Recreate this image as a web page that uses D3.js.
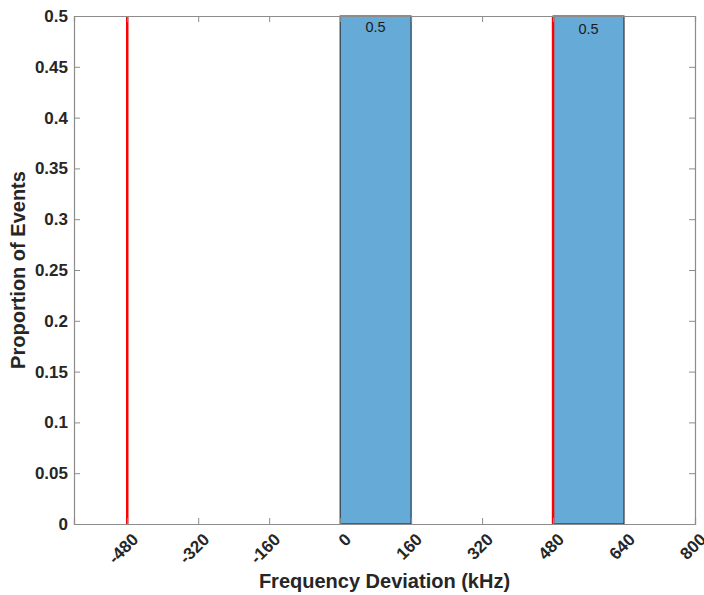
<!DOCTYPE html>
<html><head><meta charset="utf-8">
<script src="https://cdn.jsdelivr.net/npm/d3@7"></script>
<style>body{margin:0;background:#fff}svg{display:block}</style>
</head><body>
<svg id="c" width="704" height="595"></svg>
<script>
const binEdges = [[0,160],[480,640]];
const binValues = [0.5, 0.5];
const binLabels = ["0.5","0.5"];
const refLines = [-480, 480];
const xTicks = [-480,-320,-160,0,160,320,480,640,800];
const yTicks = [0,0.05,0.1,0.15,0.2,0.25,0.3,0.35,0.4,0.45,0.5];
const xDomain = [-600, 800];
const yDomain = [0, 0.5];

const L=74, R=695, T=16, B=524;
const svg = d3.select("#c");
const x = d3.scaleLinear().domain(xDomain).range([L,R]);
const y = d3.scaleLinear().domain(yDomain).range([B,T]);
const font = "Helvetica, Arial, 'Liberation Sans', sans-serif";
const axisCol = "#8c8c8c", textCol = "#262626";

// bars
svg.selectAll("rect.bar").data(binValues).enter().append("rect")
  .attr("x",(d,i)=>x(binEdges[i][0])).attr("width",(d,i)=>x(binEdges[i][1])-x(binEdges[i][0]))
  .attr("y",d=>y(d)).attr("height",d=>y(0)-y(d))
  .attr("fill","#66aad7").attr("stroke","#1a1a1a").attr("stroke-width",1);

// bar labels
svg.selectAll("text.bl").data(binValues).enter().append("text")
  .attr("x",(d,i)=>x((binEdges[i][0]+binEdges[i][1])/2)).attr("y",(d,i)=>y(d)+16+i*2)
  .attr("text-anchor","middle").attr("font-family",font).attr("font-size",14.5)
  .attr("fill","#1a1a1a").text((d,i)=>binLabels[i]);

// ref lines
svg.selectAll("line.ref").data(refLines).enter().append("line")
  .attr("x1",d=>x(d)).attr("x2",d=>x(d)).attr("y1",y(yDomain[0])).attr("y2",y(yDomain[1]))
  .attr("stroke","#ff0000").attr("stroke-width",2.5);

// axes
const gx = svg.append("g").attr("transform",`translate(0,${B})`)
  .call(d3.axisBottom(x).tickValues(xTicks).tickSize(-6).tickFormat(d=>String(d)));
gx.selectAll(".tick text").attr("x",0).attr("y",0).attr("dy","0.72em")
  .attr("transform","translate(3,8) rotate(-45)").attr("text-anchor","end");
const gxt = svg.append("g").attr("transform",`translate(0,${T})`)
  .call(d3.axisTop(x).tickValues(xTicks).tickSize(-6).tickFormat(""));
const gy = svg.append("g").attr("transform",`translate(${L},0)`)
  .call(d3.axisLeft(y).tickValues(yTicks).tickSize(-6).tickPadding(6).tickFormat(d=>String(+d.toFixed(2))));
const gyr = svg.append("g").attr("transform",`translate(${R},0)`)
  .call(d3.axisRight(y).tickValues(yTicks).tickSize(-6).tickFormat(""));
[gx,gxt,gy,gyr].forEach(g=>{
  g.select(".domain").attr("stroke",axisCol).attr("stroke-width",1.2);
  g.selectAll(".tick line").attr("stroke",axisCol);
  g.selectAll("text").attr("font-family",font).attr("font-size",17).attr("font-weight","bold").attr("fill",textCol);
});

// axis labels
svg.append("text").attr("x",(L+R)/2).attr("y",588).attr("text-anchor","middle")
  .attr("font-family",font).attr("font-size",20).attr("font-weight","bold").attr("fill",textCol)
  .text("Frequency Deviation (kHz)");
svg.append("text").attr("transform",`translate(25,${(T+B)/2}) rotate(-90)`).attr("text-anchor","middle")
  .attr("font-family",font).attr("font-size",20).attr("font-weight","bold").attr("fill",textCol)
  .text("Proportion of Events");
</script>
</body></html>
